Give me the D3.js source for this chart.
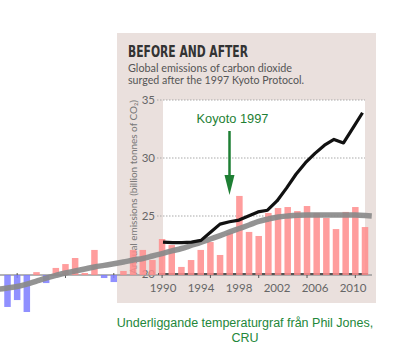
<!DOCTYPE html>
<html><head><meta charset="utf-8">
<script src="https://cdn.jsdelivr.net/npm/d3@7/dist/d3.min.js"></script>
<style>html,body{margin:0;padding:0;background:#fff;} svg{display:block;}</style>
</head><body>
<script>
// ---- data ----
const emissionYears = [1990,1991,1992,1993,1994,1995,1996,1997,1998,1999,2000,2001,2002,2003,2004,2005,2006,2007,2008,2009,2010,2011];
const emissions = [22.75,22.7,22.7,22.75,22.9,23.6,24.3,24.5,24.65,25.0,25.35,25.5,26.3,27.4,28.6,29.6,30.4,31.1,31.6,31.3,32.6,33.9];
const yTicks = [20,25,30,35];
const xTickYears = [1990,1994,1998,2002,2006,2010];
const xTickLabels = ["1990","1994","1998","2002","2006","2010"];

const tempYears = [1974,1975,1976,1977,1978,1979,1980,1981,1982,1983,1984,1985,1986,1987,1988,1989,1990,1991,1992,1993,1994,1995,1996,1997,1998,1999,2000,2001,2002,2003,2004,2005,2006,2007,2008,2009,2010,2011];
const tempAnomaly = [-0.222,-0.174,-0.257,0.02,-0.056,0.049,0.076,0.118,0.014,0.174,-0.021,-0.049,0.028,0.174,0.174,0.104,0.25,0.208,0.056,0.104,0.174,0.229,0.139,0.292,0.549,0.299,0.271,0.431,0.465,0.472,0.444,0.479,0.431,0.396,0.319,0.438,0.472,0.333];
const trendYears = [1973,1974,1975,1976,1977,1978,1979,1980,1981,1982,1983,1984,1985,1986,1987,1988,1989,1990,1991,1992,1993,1994,1995,1996,1997,1998,1999,2000,2001,2002,2003,2004,2005,2006,2007,2008,2009,2010,2011,2011.7];
const trendValues = [-0.10,-0.09,-0.08,-0.063,-0.042,-0.021,-0.003,0.014,0.028,0.042,0.056,0.067,0.078,0.09,0.104,0.115,0.132,0.149,0.167,0.184,0.205,0.226,0.25,0.274,0.299,0.323,0.347,0.372,0.389,0.403,0.41,0.415,0.417,0.417,0.417,0.417,0.417,0.416,0.413,0.41];
const tempTickYears = [1975,1980,1985,1990,1995,2000,2005,2010];

const kyotoYear = 1997;
const kyotoLabel = "Koyoto 1997";
const title = "BEFORE AND AFTER";
const subtitle = ["Global emissions of carbon dioxide","surged after the 1997 Kyoto Protocol."];
const yTitle = "Annual emissions (billion tonnes of CO\u2082)";
const caption = ["Underliggande temperaturgraf fr\u00e5n Phil Jones,","CRU"];

// ---- drawing ----
const W = 400, H = 350;
const svg = d3.select("body").append("svg").attr("width", W).attr("height", H);

const xE = d3.scaleLinear().domain([1990, 2010]).range([163, 353]);
const yE = d3.scaleLinear().domain([20, 35]).range([274, 100]);
const xT = d3.scaleLinear().domain([1974, 2011]).range([7.5, 365]);
const yT = d3.scaleLinear().domain([0, 0.5]).range([275, 203]);

// panel
svg.append("rect").attr("x",117).attr("y",33).attr("width",259).attr("height",270).attr("fill","#eae0dd");
svg.append("rect").attr("x",xE(1990)).attr("y",yE(35)).attr("width",365-xE(1990)).attr("height",yE(20)-yE(35)).attr("fill","#ffffff");

// title/subtitle
svg.append("text").attr("x",128).attr("y",56.5).text(title)
  .attr("font-family","'DejaVu Sans Condensed','DejaVu Sans',sans-serif").attr("font-weight","bold")
  .attr("font-size",15).attr("fill","#333").attr("textLength",120).attr("lengthAdjust","spacingAndGlyphs");
svg.selectAll(".sub").data(subtitle).enter().append("text")
  .attr("x",128).attr("y",(d,i)=>72+i*12).text(d=>d)
  .attr("font-family","Lato, 'Open Sans', sans-serif").attr("font-size",10.5).attr("fill","#555")
  .attr("textLength",(d,i)=>i?176:164).attr("lengthAdjust","spacingAndGlyphs");

// gridlines
svg.selectAll(".grid").data(yTicks.filter(t=>t>20)).enter().append("line")
  .attr("x1",157).attr("x2",365).attr("y1",d=>yE(d)).attr("y2",d=>yE(d))
  .attr("stroke","#a9a9a9").attr("stroke-width",1).attr("stroke-dasharray","1.5,1.5");
svg.selectAll(".ylab").data(yTicks).enter().append("text")
  .attr("x",155).attr("y",d=>yE(d)+4).attr("text-anchor","end").text(d=>d)
  .attr("font-family","Lato, 'Open Sans', sans-serif").attr("font-size",11.5).attr("fill","#666");

// y title
svg.append("text").attr("transform",`translate(137,${(yE(20)+yE(35))/2}) rotate(-90)`)
  .attr("text-anchor","middle").text(yTitle)
  .attr("font-family","Lato, 'Open Sans', sans-serif").attr("font-size",10).attr("fill","#777")
  .attr("textLength",174).attr("lengthAdjust","spacingAndGlyphs");

// x labels
svg.selectAll(".xlab").data(xTickYears).enter().append("text")
  .attr("x",d=>xE(d)).attr("y",291.5).attr("text-anchor","middle").text((d,i)=>xTickLabels[i])
  .attr("font-family","Lato, 'Open Sans', sans-serif").attr("font-size",11.5).attr("fill","#666");

// temperature zero line
svg.append("line").attr("x1",0).attr("x2",372).attr("y1",yT(0)).attr("y2",yT(0))
  .attr("stroke","#9a9a9a").attr("stroke-width",1.5);
// emissions axis
svg.append("line").attr("x1",158).attr("x2",368).attr("y1",yE(20)).attr("y2",yE(20))
  .attr("stroke","#555").attr("stroke-width",2);
svg.selectAll(".tt").data(tempTickYears).enter().append("line")
  .attr("x1",d=>xT(d)).attr("x2",d=>xT(d)).attr("y1",yT(0)-2).attr("y2",yT(0)+3)
  .attr("stroke","#555").attr("stroke-width",1);

// temperature bars
const bw = 6.5;
svg.selectAll(".bar").data(tempYears).enter().append("rect")
  .attr("x",d=>xT(d)-bw/2).attr("width",bw)
  .attr("y",(d,i)=>Math.min(yT(tempAnomaly[i]),yT(0)))
  .attr("height",(d,i)=>Math.abs(yT(tempAnomaly[i])-yT(0)))
  .attr("fill",(d,i)=>tempAnomaly[i]>=0?"#ff8c8c":"#7d7dff").attr("opacity",0.85);

// grey trend
svg.append("path").datum(trendYears)
  .attr("d",d3.line().x(d=>xT(d)).y((d,i)=>yT(trendValues[i])).curve(d3.curveMonotoneX))
  .attr("fill","none").attr("stroke","#8a8a8a").attr("stroke-width",5.5).attr("opacity",0.92);

// emissions line
svg.append("path").datum(emissionYears)
  .attr("d",d3.line().x(d=>xE(d)).y((d,i)=>yE(emissions[i])))
  .attr("fill","none").attr("stroke","#111").attr("stroke-width",3.2).attr("stroke-linejoin","round");

// Kyoto annotation
const green = "#1e7f34";
const ax = xE(kyotoYear);
svg.append("text").attr("x",ax-33).attr("y",123).text(kyotoLabel)
  .attr("font-family","'Liberation Sans', Arial, sans-serif").attr("font-size",12.8).attr("fill",green);
svg.append("line").attr("x1",ax).attr("x2",ax).attr("y1",131).attr("y2",180)
  .attr("stroke",green).attr("stroke-width",2.5);
svg.append("path").attr("d",`M${ax-5},175 L${ax+5},175 L${ax},195 Z`).attr("fill",green);

// caption
svg.selectAll(".cap").data(caption).enter().append("text")
  .attr("x",245).attr("y",(d,i)=>327+i*14.5).attr("text-anchor","middle").text(d=>d)
  .attr("font-family","'Liberation Sans', Arial, sans-serif").attr("font-size",12.5).attr("fill","#23873a");
</script>
</body></html>
